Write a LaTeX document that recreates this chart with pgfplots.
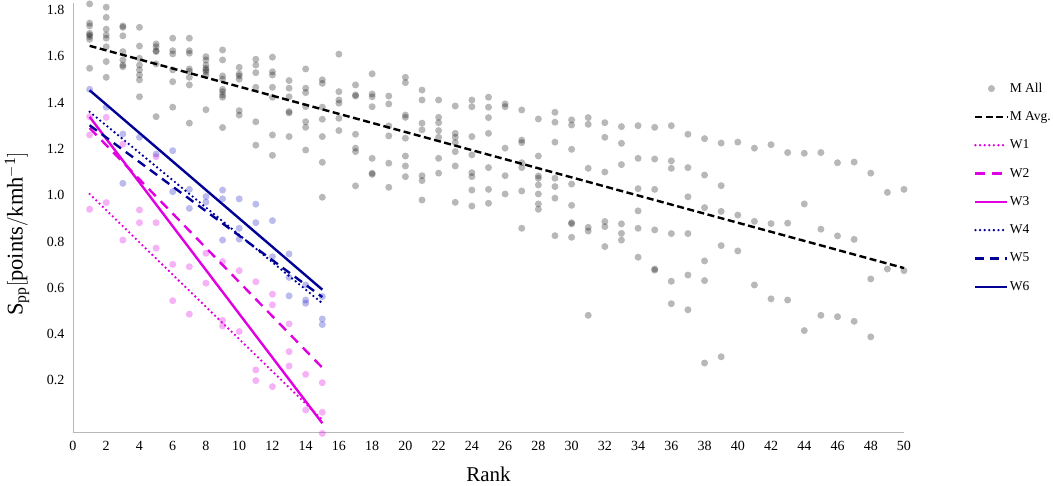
\documentclass[border=0pt]{standalone}
\usepackage{fontspec}
\setmainfont{Liberation Serif}
\usepackage{pgfplots}
\pgfplotsset{compat=1.18}
\definecolor{wmag}{RGB}{225,0,225}
\definecolor{wnavy}{RGB}{0,0,150}
\definecolor{wblue}{RGB}{30,30,200}

\begin{document}
\begin{tikzpicture}
\useasboundingbox (-73pt,-53.3pt) rectangle (980pt,432.7pt);
\begin{axis}[
  scale only axis, width=831pt, height=429.7pt,
  at={(0pt,0pt)}, anchor=south west,
  xmin=0, xmax=50, ymin=-0.026, ymax=1.83,
  clip=false,
  axis x line*=bottom, axis y line*=left,
  axis line style={draw=black!28, line width=0.9pt},
  xtick={0,2,...,50},
  ytick={0.2,0.4,0.6,0.8,1.0,1.2,1.4,1.6,1.8},
  major tick length=0pt,
  /pgf/number format/assume math mode=true,
  y tick label style={/pgf/number format/fixed, /pgf/number format/fixed zerofill, /pgf/number format/precision=1, xshift=-5pt},
  x tick label style={yshift=-5pt},
  tick label style={font=\fontsize{14}{16}\selectfont},
  xlabel={Rank},
  xlabel style={at={(axis description cs:0.5,-0.098)}, anchor=center, font=\fontsize{21}{24}\selectfont},
  ylabel={$\mathrm{S_{pp}[points/kmh^{-1}]}$},
  ylabel style={at={(axis description cs:-0.0674,0.4624)}, anchor=center, font=\fontsize{22.5}{26}\selectfont},
  legend image code/.code={\draw[#1] (0pt,0pt) -- (32pt,0pt);},
  legend cell align=left,
  legend style={draw=none, fill=none, inner sep=0pt, row sep=14.3pt,
    at={(axis description cs:1.0842,0.8175)}, anchor=north west,
    font=\fontsize{13.5}{15}\selectfont,
    nodes={inner sep=1pt, text height=9.5pt, text depth=2.5pt}},
]
% M All
\addplot[only marks, mark=*, mark size=3.5pt, mark options={draw opacity=0, fill=black, fill opacity=0.28},
  legend image code/.code={\draw[##1] plot coordinates {(16pt,0pt)};}] table {
x y
1 1.826
1 1.743
1 1.731
1 1.699
1 1.692
1 1.685
1 1.673
1 1.548
2 1.812
2 1.768
2 1.717
2 1.692
2 1.678
2 1.641
2 1.577
2 1.509
3 1.731
3 1.725
3 1.688
3 1.620
3 1.584
3 1.562
3 1.555
4 1.725
4 1.644
4 1.591
4 1.562
4 1.541
4 1.519
4 1.498
4 1.425
5 1.653
5 1.641
5 1.624
5 1.620
5 1.567
5 1.339
6 1.678
6 1.624
6 1.610
6 1.541
6 1.490
6 1.380
7 1.678
7 1.624
7 1.613
7 1.545
7 1.535
7 1.509
7 1.476
7 1.311
8 1.598
8 1.584
8 1.562
8 1.548
8 1.541
8 1.533
8 1.519
8 1.369
9 1.627
9 1.584
9 1.515
9 1.501
9 1.457
9 1.447
9 1.433
9 1.423
9 1.292
10 1.552
10 1.524
10 1.515
10 1.501
10 1.365
10 1.346
11 1.587
11 1.562
11 1.529
11 1.466
11 1.317
11 1.216
12 1.596
12 1.533
12 1.519
12 1.466
12 1.423
12 1.260
12 1.172
13 1.495
13 1.462
13 1.425
13 1.361
13 1.355
13 1.253
14 1.545
14 1.462
14 1.443
14 1.382
14 1.317
14 1.293
14 1.195
15 1.498
15 1.483
15 1.380
15 1.328
15 1.253
15 1.142
15 0.991
16 1.609
16 1.447
16 1.411
16 1.397
16 1.332
16 1.279
17 1.476
17 1.433
17 1.428
17 1.263
17 1.203
17 1.188
17 1.040
18 1.524
18 1.437
18 1.425
18 1.382
18 1.159
18 1.095
18 1.090
19 1.428
19 1.394
19 1.299
19 1.256
19 1.138
19 1.034
20 1.509
20 1.486
20 1.346
20 1.336
20 1.246
20 1.169
20 1.126
20 1.080
21 1.454
21 1.411
21 1.311
21 1.282
21 1.084
21 1.063
21 0.979
22 1.411
22 1.336
22 1.313
22 1.279
22 1.250
22 1.159
22 1.095
23 1.385
23 1.267
23 1.250
23 1.227
23 1.188
23 1.126
23 0.969
24 1.411
24 1.382
24 1.253
24 1.174
24 1.097
24 1.080
24 1.022
24 0.953
25 1.423
25 1.380
25 1.335
25 1.267
25 1.119
25 1.025
25 0.965
26 1.394
26 1.382
26 1.203
26 1.084
26 1.005
27 1.368
27 1.238
27 1.227
27 1.140
27 1.119
27 1.018
27 0.857
28 1.329
28 1.169
28 1.083
28 1.073
28 1.044
28 1.005
28 0.962
28 0.939
29 1.358
29 1.315
29 1.229
29 1.073
29 1.037
29 0.987
29 0.825
30 1.325
30 1.303
30 1.198
30 1.048
30 0.956
30 0.881
30 0.876
30 0.818
31 1.335
31 1.306
31 1.116
31 0.861
31 0.845
31 0.481
32 1.313
32 1.250
32 1.100
32 0.886
32 0.864
32 0.778
33 1.296
33 1.224
33 1.132
33 0.876
33 0.835
33 0.806
34 1.300
34 1.159
34 1.028
34 0.932
34 0.857
34 0.732
35 1.293
35 1.156
35 1.025
35 0.850
35 0.681
35 0.676
36 1.300
36 1.148
36 1.116
36 0.834
36 0.628
36 0.531
37 1.263
37 1.119
37 0.993
37 0.834
37 0.655
37 0.505
38 1.244
38 1.087
38 0.946
38 0.716
38 0.631
38 0.275
39 1.225
39 1.041
39 0.930
39 0.782
39 0.302
40 1.229
40 0.914
40 0.759
41 1.203
41 0.887
41 0.612
42 1.218
42 0.877
42 0.552
43 1.184
43 0.879
43 0.547
44 1.181
44 0.962
44 0.415
45 1.184
45 0.853
45 0.481
46 1.140
46 0.824
46 0.475
47 1.143
47 0.809
47 0.455
48 1.095
48 0.638
48 0.388
49 1.012
49 0.681
50 1.025
50 0.674
};
\addlegendentry{M All}
% W1-W3 points
\addplot[forget plot, only marks, mark=*, mark size=3.5pt, mark options={draw opacity=0, fill=wmag, fill opacity=0.3}] table {
x y
1 1.339
1 1.260
1 0.939
2 1.336
2 0.968
3 1.220
3 0.806
4 0.936
4 0.881
5 1.166
5 0.881
5 0.771
6 0.701
6 0.544
7 0.691
7 0.486
8 0.749
8 0.620
9 0.713
9 0.459
9 0.435
10 0.674
10 0.411
11 0.626
11 0.245
11 0.199
12 0.572
12 0.526
12 0.173
13 0.444
13 0.324
13 0.262
14 0.226
14 0.072
15 0.190
15 0.062
15 -0.029
};
% W4-W6 points
\addplot[forget plot, only marks, mark=*, mark size=3.5pt, mark options={draw opacity=0, fill=wblue, fill opacity=0.3}] table {
x y
1 1.457
2 1.380
3 1.264
3 1.051
4 1.250
5 1.178
6 1.192
6 1.015
7 1.025
7 0.943
8 0.994
8 0.970
9 1.022
9 0.984
9 0.806
10 0.984
10 0.857
10 0.810
11 0.961
11 0.881
12 0.890
12 0.734
13 0.746
13 0.645
13 0.565
14 0.612
14 0.547
14 0.533
15 0.562
15 0.465
15 0.441
};
% trend lines
\addplot[black, line width=2.4pt, dash pattern=on 7pt off 3.5pt] coordinates {(1,1.645) (50,0.685)};
\addlegendentry{M Avg.}
\addplot[wmag, line width=2.6pt, line cap=round, dash pattern=on 0pt off 4.6pt] coordinates {(1,1.005) (15,0.030)};
\addlegendentry{W1}
\addplot[wmag, line width=2.4pt, dash pattern=on 10pt off 7pt] coordinates {(1,1.290) (15,0.255)};
\addlegendentry{W2}
\addplot[wmag, line width=2.4pt] coordinates {(1,1.338) (15,0.015)};
\addlegendentry{W3}
\addplot[wnavy, line width=2.6pt, line cap=round, dash pattern=on 0pt off 4.6pt] coordinates {(1,1.360) (15,0.533)};
\addlegendentry{W4}
\addplot[wnavy, line width=2.4pt, dash pattern=on 9pt off 6pt] coordinates {(1,1.302) (15,0.560)};
\addlegendentry{W5}
\addplot[wnavy, line width=2.4pt] coordinates {(1,1.453) (15,0.592)};
\addlegendentry{W6}
\end{axis}
\end{tikzpicture}
\end{document}
